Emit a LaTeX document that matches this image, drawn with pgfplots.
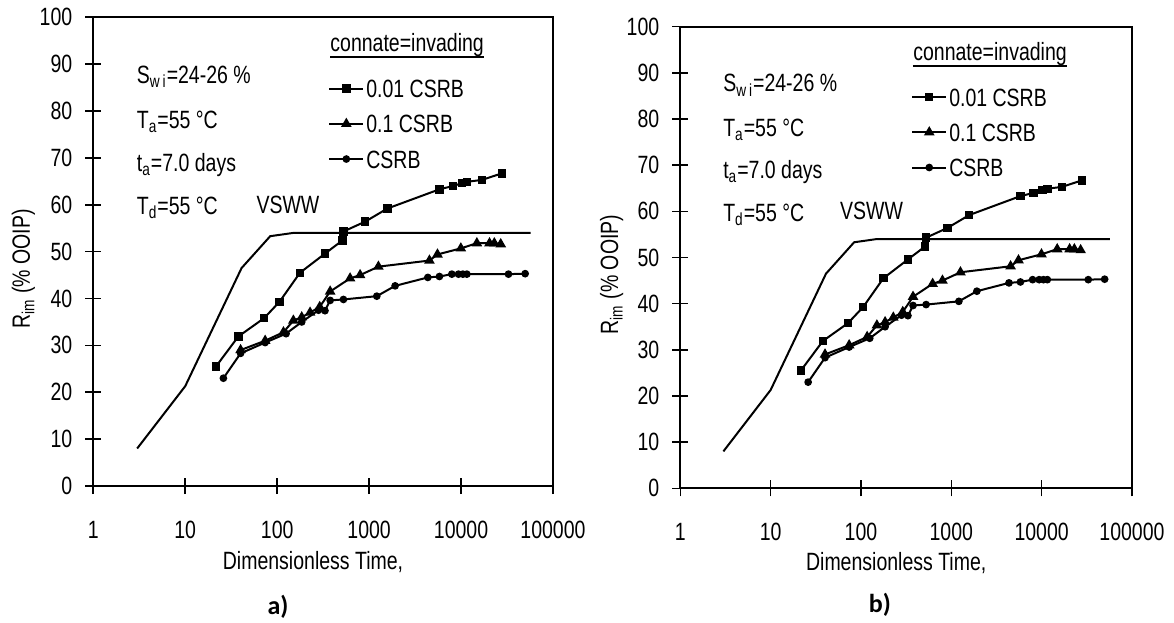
\documentclass[border=0pt]{standalone}
\usepackage{fontspec}
\setmainfont[FakeStretch=0.78]{Liberation Sans}
\newfontfamily\capfont{Carlito}
\usepackage{pgfplots}
\pgfplotsset{compat=1.18}

\newcommand{\fs}{\fontsize{12.5pt}{14pt}\selectfont}

\pgfplotsset{
  myframe/.style={
    scale only axis,
    xmin=1, xmax=100000, ymin=0, ymax=100,
    xtick={1,10,100,1000,10000,100000},
    xticklabels={1,10,100,1000,10000,100000},
    xminorticks=false,
    ytick={0,10,...,100},
    tick pos=left, tick align=center, major tick length=8pt,
    axis line style={line width=1.1pt},
    tick style={line width=0.8pt, black},
    /pgf/number format/assume math mode=true,
    tick label style={font=\fs},
    xticklabel style={yshift=-10pt},
    yticklabel style={xshift=-3pt},
    label style={font=\fs},
    xlabel={Dimensionless Time,},
    ylabel={R\textsubscript{im} (\% OOIP)},
    xlabel style={at={(axis description cs:0.478,-0.162)}, anchor=center},
    ylabel style={at={(axis description cs:-0.152,0.463)}, anchor=center},
    legend cell align=left,
    legend style={at={(0.51,0.870)}, anchor=north west, draw=none, fill=none,
      inner sep=0pt, row sep=7.6pt, font=\fs,
      nodes={inner sep=0.5pt, text height=9pt, text depth=0pt}},
    legend image code/.code={%
      \path[draw=none, fill=none] (-0.6pt,-3pt) rectangle (18pt,3pt);
      \draw[mark repeat=2,mark phase=2]
      plot coordinates {(0pt,0pt)(8.5pt,0pt)(17pt,0pt)};},
  },
  curve/.style={black, line width=1pt},
}

% same content in both panels
\newcommand{\panelcontent}{%
  % VSWW
  \addplot[curve, mark=none, forget plot] coordinates {
    (3,8) (10,21.3) (41,46.5) (84,53.3) (150,54) (57000,54)
  };
  \addplot[curve, mark=square*, mark size=1.6pt] coordinates {
    (21.6,25.5) (37.8,31.9) (72,35.8) (106,39.3) (177,45.5) (332,49.6)
    (513,52.4) (526,54.3) (905,56.4) (1580,59.2) (5820,63.3) (8150,64.0)
    (10200,64.6) (11600,64.9) (16800,65.3) (27800,66.7)
  };
  \addlegendentry{0.01 CSRB}
  \addplot[curve, mark=triangle*, mark size=2.1pt] coordinates {
    (40,29) (74,31) (117,32.8) (150,35.3) (185,36) (228,37) (290,38.2)
    (377,41.5) (621,44.3) (798,45) (1262,46.8) (4530,48.1) (5540,49.4)
    (9950,50.7) (14860,51.8) (20400,51.8) (23000,51.8) (27000,51.6)
  };
  \addlegendentry{0.1 CSRB}
  \addplot[curve, mark=*, mark size=1.4pt] coordinates {
    (26,23) (40,28.3) (74,30.6) (125,32.5) (185,35) (281,37.5) (331,37.4)
    (377,39.6) (526,39.8) (1212,40.5) (1918,42.7) (4350,44.5) (5820,44.7)
    (7940,45.2) (9380,45.2) (10470,45.2) (11560,45.2) (32800,45.2) (49800,45.3)
  };
  \addlegendentry{CSRB}
  \node[anchor=west, font=\fs] at (axis cs:2.5,87.3) {S\textsubscript{w\,i}=24-26 \%};
  \node[anchor=west, font=\fs] at (axis cs:2.5,77.7) {T\textsubscript{a}=55 °C};
  \node[anchor=west, font=\fs] at (axis cs:2.5,68.5) {t\textsubscript{a}=7.0 days};
  \node[anchor=west, font=\fs] at (axis cs:2.5,59.3) {T\textsubscript{d}=55 °C};
  \node[font=\fs] at (axis cs:131,60) {VSWW};
  \node[anchor=west, font=\fs, inner sep=0pt] (ci) at (rel axis cs:0.515,0.941) {connate=invading};
  \draw[line width=1pt] (ci.south west) -- (ci.south east);
}

\begin{document}
\begin{tikzpicture}
\useasboundingbox (0,0) rectangle (587pt,311pt);

\begin{axis}[xmode=log, myframe, at={(46.65pt,68pt)}, anchor=south west,
  width=229.85pt, height=234.35pt]
\panelcontent
\end{axis}

\begin{axis}[xmode=log, myframe, at={(340.15pt,66.85pt)}, anchor=south west,
  width=225.85pt, height=230.8pt]
\panelcontent
\end{axis}

\node[font=\capfont\bfseries\fontsize{13pt}{15pt}\selectfont] at (139pt,7.5pt) {a)};
\node[font=\capfont\bfseries\fontsize{13pt}{15pt}\selectfont] at (440pt,8.5pt) {b)};
\end{tikzpicture}
\end{document}
